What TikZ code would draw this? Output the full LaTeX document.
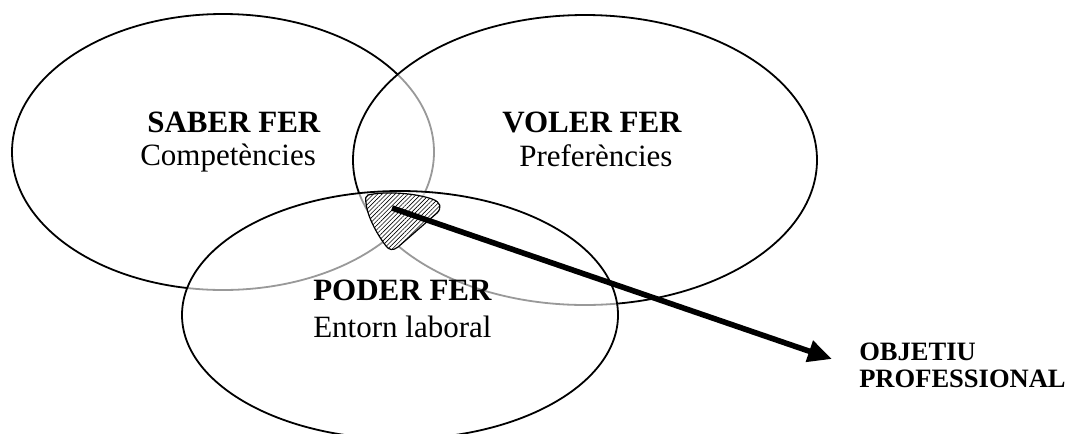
\documentclass[tikz,border=0pt]{standalone}
\usepackage{fontspec}
\setmainfont{Liberation Serif}
\usetikzlibrary{arrows.meta,patterns.meta}
\begin{document}
\begin{tikzpicture}[x=0.75pt,y=-0.75pt,
  circ/.style={draw=black,line width=1.35pt},
  veil/.style={circ,fill=white,fill opacity=0.6},
  lbl/.style={anchor=base west,inner sep=0pt,font=\fontsize{23.25pt}{28pt}\selectfont},
  lblb/.style={anchor=base west,inner sep=0pt,font=\fontsize{23.25pt}{28pt}\selectfont\bfseries},
  goal/.style={anchor=base west,inner sep=0pt,font=\fontsize{19.9pt}{21pt}\selectfont\bfseries},
  hatch/.style={draw=black,line width=0.9pt,preaction={fill=white},pattern={Lines[angle=45,distance=2.3pt,line width=0.45pt]},pattern color=black},
  bigarrow/.style={line width=4.2pt,-{Triangle[length=18pt,width=16pt]}}
]
\useasboundingbox (0,0) rectangle (1070,433);
% ellipses (later ones veil earlier lines)
\draw[circ] (223,152) ellipse [x radius=211, y radius=138];
\draw[veil] (585,160) ellipse [x radius=232, y radius=145];
\draw[veil] (400,315) ellipse [x radius=218, y radius=124];
% hatched common region
\draw[hatch] (368,195) .. controls (385,191) and (415,193) .. (432,199)
  .. controls (441,202) and (442,208) .. (437,213)
  -- (398,247)
  .. controls (393,251) and (389,250) .. (386,246)
  .. controls (376,233) and (367,215) .. (366,203)
  .. controls (365,198) and (366,196) .. (368,195) -- cycle;
% arrow
\coordinate (start) at (392,208);
\coordinate (tip) at (832,359);
\draw[bigarrow] (start) -- (tip);
% labels
\node[lblb] (saber) at (147,132) {SABER FER};
\node[lbl] (comp) at (140,165) {Competències};
\node[lblb] (voler) at (502,132) {VOLER FER};
\node[lbl] (pref) at (519,166) {Preferències};
\node[lblb] (poder) at (313,300) {PODER FER};
\node[lbl] (entorn) at (313,337) {Entorn laboral};
\node[goal] (obj1) at (859,360) {OBJETIU};
\node[goal] (obj2) at (859,387) {PROFESSIONAL};
\end{tikzpicture}
\end{document}
